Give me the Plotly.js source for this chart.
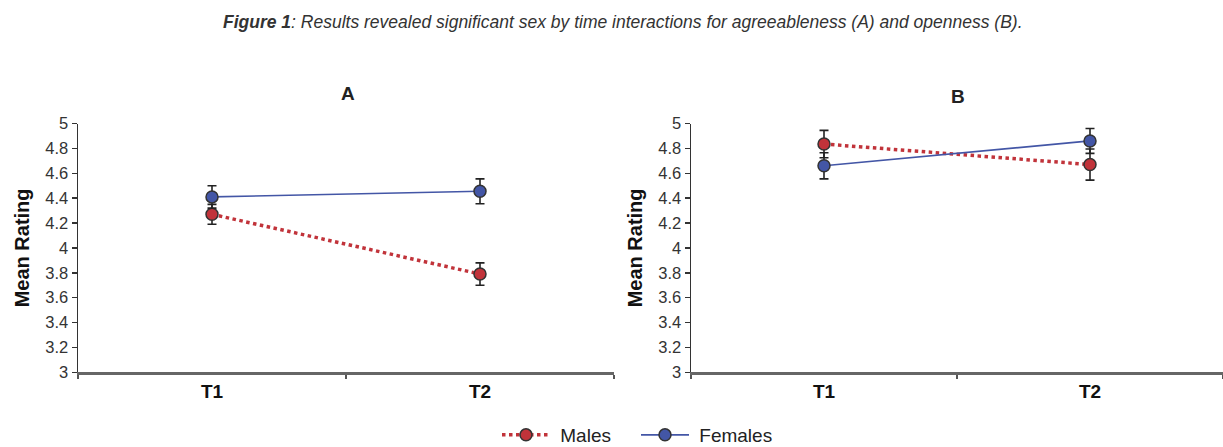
<!DOCTYPE html>
<html>
<head>
<meta charset="utf-8">
<script src="https://cdn.plot.ly/plotly-3.0.1.min.js"></script>
<style>html,body{margin:0;padding:0;background:#fff;overflow:hidden;}</style>
</head>
<body>
<div id="chart" style="width:1223px;height:447px;"></div>
<script>
// Categories
const times = ['T1', 'T2'];
// Panel A: agreeableness
const malesA = [4.27, 3.79];
const malesAErr = [0.08, 0.09];
const femalesA = [4.41, 4.455];
const femalesAErr = [0.09, 0.10];
// Panel B: openness
const malesB = [4.835, 4.67];
const malesBErr = [0.11, 0.125];
const femalesB = [4.66, 4.86];
const femalesBErr = [0.105, 0.10];
// Axis ticks
const yTicks = [3, 3.2, 3.4, 3.6, 3.8, 4, 4.2, 4.4, 4.6, 4.8, 5];
const yTickText = ['3', '3.2', '3.4', '3.6', '3.8', '4', '4.2', '4.4', '4.6', '4.8', '5'];
const seriesNames = ['Males', 'Females'];

const RED = '#c1333a';
const BLUE = '#4356a6';
const FONT = 'Liberation Sans, Arial, sans-serif';
const GAP = '\u00a0';

function maleTrace(y, err, xa, ya, show) {
  return {
    type: 'scatter', mode: 'lines+markers', name: GAP + seriesNames[0],
    x: times, y: y, xaxis: xa, yaxis: ya, showlegend: show, legendgroup: 'm',
    line: {color: RED, width: 3.5, dash: 'dot'},
    marker: {symbol: 'circle', size: 12, color: RED, line: {color: '#333', width: 1.5}},
    error_y: {type: 'data', array: err, visible: true, color: '#222', thickness: 1.6, width: 4.5}
  };
}
function femaleTrace(y, err, xa, ya, show) {
  return {
    type: 'scatter', mode: 'lines+markers', name: GAP + seriesNames[1],
    x: times, y: y, xaxis: xa, yaxis: ya, showlegend: show, legendgroup: 'f',
    line: {color: BLUE, width: 1.6},
    marker: {symbol: 'circle', size: 12, color: BLUE, line: {color: '#333', width: 1.5}},
    error_y: {type: 'data', array: err, visible: true, color: '#222', thickness: 1.6, width: 4.5}
  };
}

const data = [
  maleTrace(malesA, malesAErr, 'x', 'y', true),
  femaleTrace(femalesA, femalesAErr, 'x', 'y', true),
  maleTrace(malesB, malesBErr, 'x2', 'y2', false),
  femaleTrace(femalesB, femalesBErr, 'x2', 'y2', false)
];

const W = 1223, H = 447;
const yDom = [(H - 372.3) / H, (H - 123.5) / H];

function xAxis(dom, anchor) {
  return {
    domain: dom, anchor: anchor, type: 'category', range: [-0.5, 1.5], automargin: false,
    showline: true, linecolor: '#666', linewidth: 2.5,
    ticks: 'outside', tickson: 'boundaries', ticklen: 4, tickcolor: '#555', tickwidth: 1.5,
    showgrid: false, zeroline: false,
    tickfont: {family: FONT, size: 19, color: '#111', weight: 'bold'}
  };
}
function yAxis(anchor) {
  return {
    domain: yDom, anchor: anchor, range: [3, 5], automargin: false,
    tickmode: 'array', tickvals: yTicks, ticktext: yTickText,
    showline: true, linecolor: '#333', linewidth: 1.5,
    ticks: 'outside', ticklen: 5, tickcolor: '#333', tickwidth: 1.5,
    showgrid: false, zeroline: false,
    tickfont: {family: FONT, size: 16.5, color: '#333'},
    title: {text: 'Mean Rating', standoff: 10, font: {family: FONT, size: 20, color: '#111', weight: 'bold'}}
  };
}

const layout = {
  width: W, height: H,
  margin: {l: 0, r: 0, t: 0, b: 0, autoexpand: false},
  paper_bgcolor: '#fff', plot_bgcolor: '#fff',
  font: {family: FONT, color: '#333'},
  xaxis: xAxis([78 / W, 614 / W], 'y'),
  yaxis: yAxis('x'),
  xaxis2: xAxis([691 / W, 1], 'y2'),
  yaxis2: yAxis('x2'),
  showlegend: true,
  legend: {
    orientation: 'h', x: 497 / W, xanchor: 'left', y: (H - 435) / H, yanchor: 'middle',
    font: {family: FONT, size: 19, color: '#222'}, itemwidth: 48,
    entrywidth: 76, entrywidthmode: 'pixels', bgcolor: 'rgba(0,0,0,0)'
  },
  annotations: [
    {text: '<b>Figure 1</b>: Results revealed significant sex by time interactions for agreeableness (A) and openness (B).',
     xref: 'paper', yref: 'paper', x: 623 / W, y: (H - 22) / H, xanchor: 'center', yanchor: 'middle',
     showarrow: false, font: {family: FONT, size: 17.5, color: '#333', style: 'italic'}},
    {text: '<b>A</b>', xref: 'paper', yref: 'paper', x: 348 / W, y: (H - 93) / H, xanchor: 'center', yanchor: 'middle',
     showarrow: false, font: {family: FONT, size: 19, color: '#222'}},
    {text: '<b>B</b>', xref: 'paper', yref: 'paper', x: 958 / W, y: (H - 97) / H, xanchor: 'center', yanchor: 'middle',
     showarrow: false, font: {family: FONT, size: 19, color: '#222'}}
  ]
};

Plotly.newPlot('chart', data, layout, {displayModeBar: false, staticPlot: true});
</script>
</body>
</html>
